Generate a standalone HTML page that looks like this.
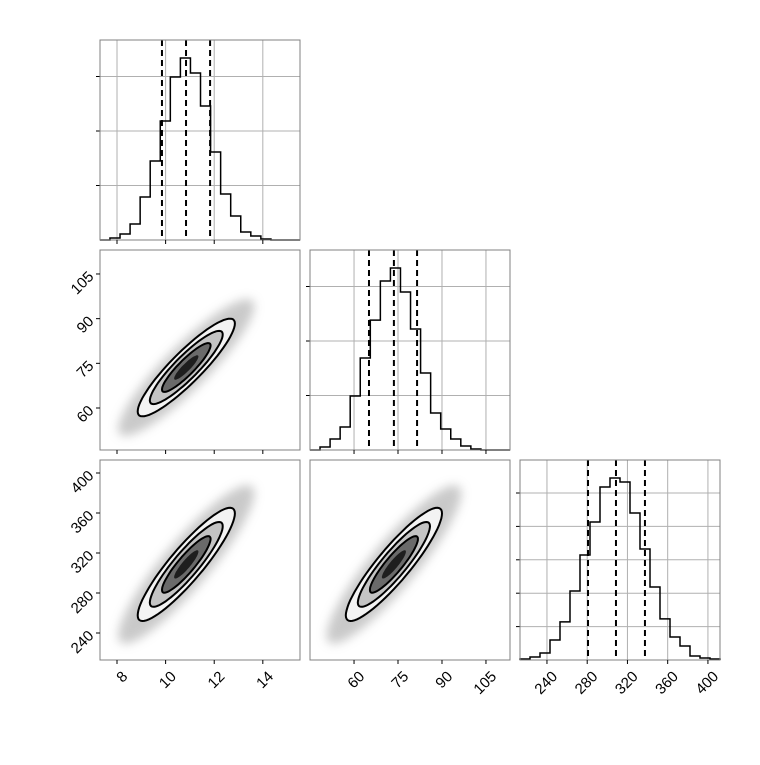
<!DOCTYPE html>
<html><head><meta charset="utf-8">
<style>
html,body{margin:0;padding:0;background:#fff;}
svg text{font-family:"Liberation Sans","DejaVu Sans",sans-serif;font-size:15px;fill:#000;}
</style></head>
<body>
<svg id="chart" width="760" height="760" viewBox="0 0 760 760" xmlns="http://www.w3.org/2000/svg">
<defs>
<filter id="blur" x="-30%" y="-30%" width="160%" height="160%"><feGaussianBlur stdDeviation="5"/></filter>
</defs>
</svg>
<script>
// ---- data ----
const means = [10.85, 73.6, 308.6];
const sds = [1.0, 8.2, 28.3];
const rhos = {"1-0":0.9, "2-0":0.9, "2-1":0.9};
const quantiles0 = [9.85, 10.84, 11.83];
const quantiles1 = [65.1, 73.6, 81.5];
const quantiles2 = [280.8, 308.6, 337.4];
const binStart0 = 7.71, binStep0 = 0.414;
const binStart1 = 48.4, binStep1 = 3.43;
const binStart2 = 213.2, binStep2 = 9.94;
const counts0 = [18,55,147,394,725,1092,1495,1670,1532,1229,807,422,220,73,37,9];
const counts1 = [28,101,211,495,844,1192,1550,1670,1449,1110,706,339,193,101,37,9];
const counts2 = [6,18,42,120,228,413,629,826,1036,1090,1066,880,665,437,246,138,84,24,12,6];
const histTicks01 = [500,1000,1500];
const histTicks2 = [200,400,600,800,1000];
const ticks0 = [8,10,12,14];
const ticks1 = [60,75,90,105];
const ticks2 = [240,280,320,360,400];
const sigmaLevels = [2,1.5,1,0.5];

// ---- layout ----
const svg = document.getElementById('chart');
const NS = 'http://www.w3.org/2000/svg';
const colX = [100,310,520], rowY = [40,250,460], S = 200;
const dom = [[7.30,15.53],[44.98,113.2],[213.2,412]];
const ydomRow = {1:[45.9,113.05], 2:[213,413]};
function mk(tag, attrs, parent){const e=document.createElementNS(NS,tag);for(const k in attrs)e.setAttribute(k,attrs[k]);(parent||svg).appendChild(e);return e;}
function xs(c){const d=dom[c];return v=>colX[c]+(v-d[0])/(d[1]-d[0])*S;}
function ys(r){const d=ydomRow[r];return v=>rowY[r]+S-(v-d[0])/(d[1]-d[0])*S;}

const hist = [
 {counts:counts0,start:binStart0,step:binStep0,q:quantiles0,ticks:histTicks01,scale:0.109},
 {counts:counts1,start:binStart1,step:binStep1,q:quantiles1,ticks:histTicks01,scale:0.109},
 {counts:counts2,start:binStart2,step:binStep2,q:quantiles2,ticks:histTicks2,scale:0.167}
];
const xticks=[ticks0,ticks1,ticks2];

// histograms
for(let i=0;i<3;i++){
  const g=mk('g',{});
  
  
  const X=xs(i), x0=colX[i], y0=rowY[i], h=hist[i];
  const yv=c=>y0+S-c*h.scale;
  // grid
  for(const t of xticks[i]){const l=mk('line',{x1:X(t),x2:X(t),y1:y0,y2:y0+S,stroke:'#b0b0b0','stroke-width':1},g);}
  for(const t of h.ticks){const l=mk('line',{x1:x0,x2:x0+S,y1:yv(t),y2:yv(t),stroke:'#b0b0b0','stroke-width':1},g);
    const tk=mk('line',{x1:x0-4,x2:x0,y1:yv(t),y2:yv(t),stroke:'#000','stroke-width':1},g);}
  // step
  let d='M'+x0+','+(y0+S)+' L'+X(h.start)+','+(y0+S);
  h.counts.forEach((c,k)=>{const xa=X(h.start+k*h.step), xb=X(h.start+(k+1)*h.step);d+=' L'+xa+','+yv(c)+' L'+xb+','+yv(c);});
  d+=' L'+X(h.start+h.counts.length*h.step)+','+(y0+S)+' L'+(x0+S)+','+(y0+S);
  const p=mk('path',{d:d,fill:'none',stroke:'#000','stroke-width':1.5},g);
  
  for(const q of h.q){const l=mk('line',{x1:X(q),x2:X(q),y1:y0,y2:y0+S,stroke:'#000','stroke-width':2,'stroke-dasharray':'6,4'},g);}
  const f=mk('rect',{x:x0,y:y0,width:S,height:S,fill:'none',stroke:'#808080','stroke-width':1},g);
  
  for(const t of xticks[i]){const tk=mk('line',{x1:X(t),x2:X(t),y1:y0+S,y2:y0+S+4,stroke:'#000','stroke-width':1},g);}
}

// 2D panels
const pairs=[[1,0],[2,0],[2,1]];
const fills=['#f3f3f3','#c4c4c4','#6a6a6a','#1e1e1e'];
for(const [r,c] of pairs){
  const g=mk('g',{});
  
  
  const X=xs(c), Y=ys(r), rho=rhos[r+'-'+c];
  const mx=means[c], my=means[r], sx=sds[c], sy=sds[r];
  function ell(s){let d='';for(let k=0;k<=72;k++){const t=k/72*2*Math.PI;const u=Math.cos(t),v=Math.sin(t);
    const px=mx+s*sx*u, py=my+s*sy*(rho*u+Math.sqrt(1-rho*rho)*v);d+=(k?'L':'M')+X(px).toFixed(1)+','+Y(py).toFixed(1);}return d+'Z';}
  const cl=mk('clipPath',{id:'clip'+r+c},g);mk('rect',{x:colX[c],y:rowY[r],width:S,height:S},cl);
  const inner=mk('g',{'clip-path':'url(#clip'+r+c+')'},g);
  const cloud=mk('path',{d:ell(2.8),fill:'#b8b8b8',opacity:0.75,filter:'url(#blur)'},inner);
  
  sigmaLevels.forEach((s,k)=>{const e=mk('path',{d:ell(s),fill:fills[k]},inner);});
  [2,1.5,1].forEach(s=>{const e=mk('path',{d:ell(s),fill:'none',stroke:'#000','stroke-width':2},inner);});
  const f=mk('rect',{x:colX[c],y:rowY[r],width:S,height:S,fill:'none',stroke:'#808080','stroke-width':1},g);
  
  for(const t of xticks[c]){const tk=mk('line',{x1:X(t),x2:X(t),y1:rowY[r]+S,y2:rowY[r]+S+4,stroke:'#000','stroke-width':1},g);}
  if(c===0){for(const t of xticks[r]){const tk=mk('line',{x1:colX[0]-4,x2:colX[0],y1:Y(t),y2:Y(t),stroke:'#000','stroke-width':1},g);}}
}

// tick labels
for(let c=0;c<3;c++){const X=xs(c);for(const t of xticks[c]){
  const x=X(t)+4, y=rowY[2]+S+10;
  const tx=mk('text',{x:x,y:y,'text-anchor':'end',transform:'rotate(-45 '+x+' '+y+')','dominant-baseline':'hanging'});
  tx.textContent=t;}}
for(const r of [1,2]){const Y=ys(r);for(const t of xticks[r]){
  const x=colX[0]-9, y=Y(t)+5;
  const tx=mk('text',{x:x,y:y,'text-anchor':'end',transform:'rotate(-45 '+x+' '+(y-5)+')'});
  tx.textContent=t;}}
</script>
</body></html>
